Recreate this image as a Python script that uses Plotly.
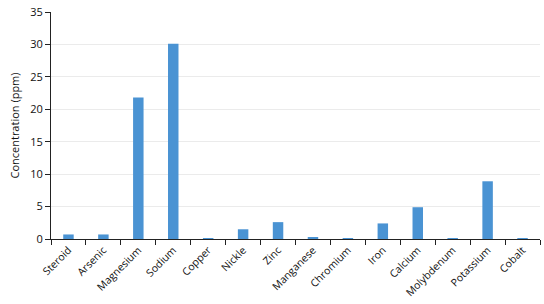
import plotly.graph_objects as go

categories = ["Steroid", "Arsenic", "Magnesium", "Sodium", "Copper", "Nickle", "Zinc",
              "Manganese", "Chromium", "Iron", "Calcium", "Molybdenum", "Potassium", "Cobalt"]
values = [0.7, 0.7, 21.8, 30.1, 0.15, 1.5, 2.6, 0.3, 0.15, 2.4, 4.9, 0.05, 8.9, 0.05]
y_ticks = [0, 5, 10, 15, 20, 25, 30, 35]

fig = go.Figure(go.Bar(x=categories, y=values, marker=dict(color="#4A93D3", line=dict(width=0))))

fig.update_layout(
    width=544, height=304,
    margin=dict(l=51, r=4, t=10, b=65),
    paper_bgcolor="white", plot_bgcolor="white",
    font=dict(family="Open Sans", size=11, color="#111"),
    bargap=0.7,
    showlegend=False,
)
fig.update_xaxes(
    showline=True, linecolor="#222", linewidth=1,
    ticks="outside", tickson="boundaries", ticklen=5, tickcolor="#222",
    tickangle=-45, showgrid=False, tickfont=dict(size=10.5),
)
fig.update_yaxes(
    range=[0, 35], tickvals=y_ticks, showline=True, linecolor="#222", linewidth=1,
    ticks="outside", ticklen=5, tickcolor="#222",
    showgrid=True, gridcolor="#EBEBEB", zeroline=False,
    title=dict(text="Concentration (ppm)", font=dict(size=11), standoff=8),
)
fig.write_html("out.html")
